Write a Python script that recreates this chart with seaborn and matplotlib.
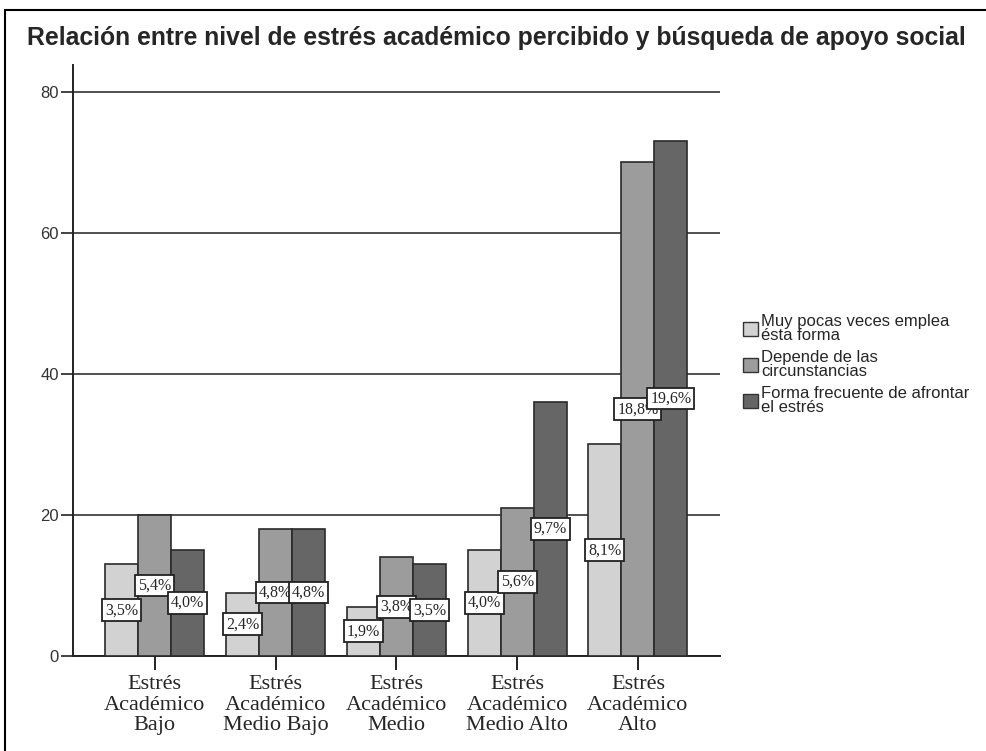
import numpy as np
import matplotlib
matplotlib.use("Agg")
import matplotlib.pyplot as plt
import pandas as pd
import seaborn as sns
from matplotlib.patches import Rectangle

groups = ["Estrés\nAcadémico\nBajo", "Estrés\nAcadémico\nMedio Bajo", "Estrés\nAcadémico\nMedio",
          "Estrés\nAcadémico\nMedio Alto", "Estrés\nAcadémico\nAlto"]
series = ["Muy pocas veces emplea\nésta forma", "Depende de las\ncircunstancias",
          "Forma frecuente de afrontar\nel estrés"]
muy_pocas = [13, 9, 7, 15, 30]
depende = [20, 18, 14, 21, 70]
frecuente = [15, 18, 13, 36, 73]
pct_labels = [["3,5%", "2,4%", "1,9%", "4,0%", "8,1%"],
              ["5,4%", "4,8%", "3,8%", "5,6%", "18,8%"],
              ["4,0%", "4,8%", "3,5%", "9,7%", "19,6%"]]
colors = ["#d2d2d2", "#9c9c9c", "#666666"]

rows = []
for s, vals in zip(series, [muy_pocas, depende, frecuente]):
    for g, v in zip(groups, vals):
        rows.append({"grupo": g, "serie": s, "n": v})
df = pd.DataFrame(rows)

sns.set_style("white")
fig = plt.figure(figsize=(9.86, 7.51), dpi=100)
ax = fig.add_axes([0.074, 0.1265, 0.656, 0.787])

sns.barplot(data=df, x="grupo", y="n", hue="serie", hue_order=series, order=groups,
            palette=colors, width=0.82, edgecolor="#2a2a2a", linewidth=1.2,
            saturation=1, ax=ax, zorder=3)

for cont, labs in zip(ax.containers, pct_labels):
    for bar, lab in zip(cont, labs):
        x = bar.get_x() + bar.get_width() / 2
        h = bar.get_height()
        ax.text(x, h / 2, lab, ha="center", va="center", fontsize=11.5,
                family="Liberation Serif", zorder=5,
                bbox=dict(boxstyle="square,pad=0.18", fc="white", ec="#222222", lw=1.3))

ax.set_ylim(0, 83.8)
ax.set_xlim(-0.678, 4.678)
ax.set_yticks([0, 20, 40, 60, 80])
ax.yaxis.grid(True, color="#222222", linewidth=1.1, zorder=0)
ax.set_axisbelow(True)
for side in ["top", "right"]:
    ax.spines[side].set_visible(False)
ax.spines["left"].set_color("#222222")
ax.spines["left"].set_linewidth(1.4)
ax.spines["bottom"].set_color("#222222")
ax.spines["bottom"].set_linewidth(1.4)
ax.tick_params(axis="y", direction="out", length=9, width=1.2, color="#222222",
               labelsize=12, pad=1, left=True)
ax.tick_params(axis="x", direction="out", length=10, width=1.4, color="#222222",
               labelsize=16, pad=4, bottom=True)
for t in ax.get_xticklabels():
    t.set_family("Liberation Serif")
    t.set_linespacing(1.08)
for t in ax.get_yticklabels():
    t.set_family("Liberation Sans")
    t.set_color("#333333")
ax.set_xlabel("")
ax.set_ylabel("")

leg = ax.legend(loc="upper left", bbox_to_anchor=(1.025, 0.59), frameon=False,
                prop={"family": "Liberation Sans", "size": 12}, handlelength=0.95,
                handleheight=0.95, handletextpad=0.15, labelspacing=0.4, borderaxespad=0)
for p in leg.get_patches():
    p.set_edgecolor("#333333")
    p.set_linewidth(1)
for t in leg.get_texts():
    t.set_linespacing(0.95)

fig.text(0.027, 0.950, "Relación entre nivel de estrés académico percibido y búsqueda de apoyo social",
         fontsize=17.8, fontweight="bold", family="Liberation Sans", va="center")

fig.patches.append(Rectangle((0.005, -0.05), 1.1, 1.037, transform=fig.transFigure,
                             fill=False, ec="black", lw=1.5))

fig.savefig("out.png", dpi=100)
